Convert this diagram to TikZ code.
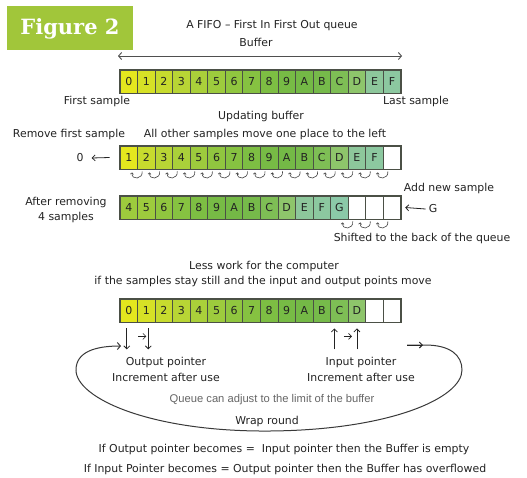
\documentclass[tikz,border=0pt]{standalone}
\usepackage{fontspec}
\setmainfont{DejaVu Sans}
\newfontfamily\badgefont{DejaVu Serif}
\newfontfamily\plainsans{Liberation Sans}
\usetikzlibrary{arrows.meta}

\definecolor{badge}{RGB}{161,198,58}
\definecolor{ink}{RGB}{35,35,35}
\definecolor{cellline}{RGB}{75,80,70}
\definecolor{c0}{RGB}{228,231,30}
\definecolor{c1}{RGB}{214,225,38}
\definecolor{c2}{RGB}{199,219,46}
\definecolor{c3}{RGB}{184,213,53}
\definecolor{c4}{RGB}{170,208,58}
\definecolor{c5}{RGB}{157,203,61}
\definecolor{c6}{RGB}{144,198,63}
\definecolor{c7}{RGB}{134,194,65}
\definecolor{c8}{RGB}{125,190,67}
\definecolor{c9}{RGB}{119,187,69}
\definecolor{cA}{RGB}{116,185,70}
\definecolor{cB}{RGB}{118,186,74}
\definecolor{cC}{RGB}{126,190,85}
\definecolor{cD}{RGB}{142,197,107}
\definecolor{cE}{RGB}{141,199,155}
\definecolor{cF}{RGB}{140,200,160}
\definecolor{cG}{RGB}{139,201,168}

\tikzset{
  cellbox/.style={draw=cellline, line width=0.8pt, minimum width=17.55pt, minimum height=23pt, inner sep=0pt, text=ink, font=\fontsize{11}{11}\selectfont},
  frame/.style={draw=cellline, line width=1.1pt},
  txt/.style={text=ink, inner sep=1pt, font=\fontsize{10.9}{15.5}\selectfont},
  qtxt/.style={text=black!60, inner sep=1pt, font=\plainsans\fontsize{11.2}{12}\selectfont},
  arr/.style={draw=ink, line width=0.8pt, -{Straight Barb[length=3pt,width=6pt]}},
  dbl/.style={draw=ink!80, line width=0.9pt, {Straight Barb[length=3pt,width=7pt]}-{Straight Barb[length=3pt,width=7pt]}},
  swirl/.style={draw=ink!85, line width=0.6pt, -{Straight Barb[length=1.5pt,width=3pt]}},
  loopline/.style={draw=ink!90, line width=1pt}
}

\newcommand\bufrow[3]{%
  \foreach \lab/\col [count=\i from 0] in {#3}
    \node[cellbox, fill=\col] (#1-\i) at ({128.775+17.55*\i}, #2) {\lab};
  \draw[frame] (#1-0.north west) rectangle (#1-15.south east);
}

\begin{document}
\begin{tikzpicture}[x={(1pt,0pt)}, y={(0pt,-1pt)}]
\fill[white] (0,0) rectangle (527,477);
\useasboundingbox (0,0) rectangle (527,477);
\fill[badge] (7,6) rectangle (133,50);
\node[text=white, font=\badgefont\bfseries\fontsize{21}{21}\selectfont] (fig) at (70,29) {Figure 2};

\node[txt] (title) at (272,25) {A FIFO – First In First Out queue};
\node[txt] (buflab) at (256,42) {Buffer};
\bufrow{r1}{81.5}{0/c0,1/c1,2/c2,3/c3,4/c4,5/c5,6/c6,7/c7,8/c8,9/c9,A/cA,B/cB,C/cC,D/cD,E/cE,F/cF}
\coordinate (bufl) at (118,56); \coordinate (bufr) at (402,56);
\draw[dbl] (bufl) -- (bufr);
\node[txt] (first) at (97,101) {First sample};
\node[txt] (last) at (416,101) {Last sample};

\node[txt] (upd) at (261,116) {Updating buffer};
\node[txt] (remove) at (69,134) {Remove first sample};
\node[txt] (allother) at (265,134) {All other samples move one place to the left};
\bufrow{r2}{157.5}{1/c0,2/c2,3/c3,4/c4,5/c5,6/c6,7/c7,8/c8,9/c9,A/cA,B/cB,C/cC,D/cD,E/cE,F/cF,{}/white}
\node[txt] (zero) at (80,158) {0};
\draw[arr] ([xshift=-10pt]r2-0.west) -- ([xshift=7pt]zero.east);
\foreach \i in {1,...,15}
  \draw[swirl] ([xshift=5pt,yshift=-2pt]r2-\i.south west) .. controls +(1,8) and +(-1,8) .. ([xshift=-5pt,yshift=-3pt]r2-\i.south west);

\node[txt] (addnew) at (449,188) {Add new sample};
\node[txt, align=center] (after) at (66,210) {After removing\\4 samples};
\bufrow{r3}{207.5}{4/c5,5/c5,6/c6,7/c7,8/c8,9/c9,A/cA,B/cB,C/cC,D/cD,E/cE,F/cF,G/cG,{}/white,{}/white,{}/white}
\node[txt] (g) at (433,209) {G};
\draw[arr] ([xshift=-2pt]g.west) -- ([xshift=4pt]r3-15.east);
\foreach \i in {13,14,15}
  \draw[swirl] ([xshift=5pt,yshift=-2pt]r3-\i.south west) .. controls +(1,8) and +(-1,8) .. ([xshift=-5pt,yshift=-3pt]r3-\i.south west);
\node[txt] (shifted) at (422,238) {Shifted to the back of the queue};

\node[txt] (less) at (264,266) {Less work for the computer};
\node[txt] (ifsam) at (263,281) {if the samples stay still and the input and output points move};
\bufrow{r4}{310.5}{0/c0,1/c1,2/c2,3/c3,4/c4,5/c5,6/c6,7/c7,8/c8,9/c9,A/cA,B/cB,C/cC,D/cD,{}/white,{}/white}
\draw[arr] ([xshift=-2pt,yshift=-6pt]r4-0.south) -- ++(0,21);
\draw[arr] ([xshift=2pt,yshift=-6pt]r4-1.south) -- ++(0,21);
\draw[arr, line width=0.6pt] ([xshift=-8pt,yshift=-14pt]r4-1.south) -- ++(8,0);
\draw[arr] ([xshift=-5pt,yshift=-27pt]r4-12.south) -- ++(0,-21);
\draw[arr] ([xshift=0pt,yshift=-27pt]r4-13.south) -- ++(0,-21);
\draw[arr, line width=0.6pt] ([xshift=-13pt,yshift=-14pt]r4-13.south) -- ++(8,0);
\node[txt] (outp) at (166,362) {Output pointer};
\node[txt] (outinc) at (166,377) {Increment after use};
\node[txt] (inp) at (361,362) {Input pointer};
\node[txt] (ininc) at (361,377) {Increment after use};

\coordinate (loopin) at (407,345);
\coordinate (loopout) at (121,346);
\draw[loopline, -{Straight Barb[length=3pt,width=7pt]}] (loopin) -- (425,345) .. controls (450,345) and (462,355) .. (462,370) .. controls (462,398) and (390,430) .. (270,431) .. controls (150,432) and (76,398) .. (76,370) .. controls (76,352) and (95,346) .. (loopout);
\draw[arr, line width=1pt] (loopin) -- (423,345);
\node[qtxt] (queue) at (272,400) {Queue can adjust to the limit of the buffer};
\node[txt] (wrap) at (267,421) {Wrap round};

\node[txt] (empty) at (284,449) {If Output pointer becomes =\ \ Input pointer then the Buffer is empty};
\node[txt] (overflow) at (285,469) {If Input Pointer becomes = Output pointer then the Buffer has overflowed};
\end{tikzpicture}
\end{document}
